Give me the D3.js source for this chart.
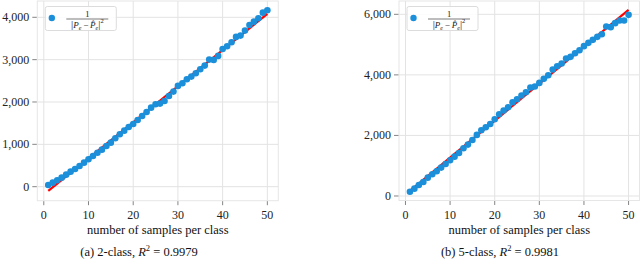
<!DOCTYPE html>
<html>
<head>
<meta charset="utf-8">
<script src="https://cdn.jsdelivr.net/npm/d3@7"></script>
<style>
    body { margin: 0; background: #fff; }
    svg { display: block; }
    .grid line { stroke: #e3e3e3; stroke-width: 1; }
    .tick-mark { stroke: #777; stroke-width: 0.9; }
    .tick-label { font-size: 12px; fill: #222; }
</style>
</head>
<body>
<div id="chart"></div>
<script>
// samples per class (x axis)
const samplesPerClass = [1, 2, 3, 4, 5, 6, 7, 8, 9, 10, 11, 12, 13, 14, 15, 16, 17, 18, 19, 20,
    21, 22, 23, 24, 25, 26, 27, 28, 29, 30, 31, 32, 33, 34, 35, 36, 37, 38, 39, 40,
    41, 42, 43, 44, 45, 46, 47, 48, 49, 50];

// 1 / |Pe - Pe_hat|^2
const twoClassValues = [40, 95, 150, 213, 284, 355, 418, 489, 567, 647, 725, 803, 874, 961, 1040,
    1143, 1237, 1323, 1410, 1481, 1575, 1670, 1765, 1866, 1946, 1962, 2025, 2143, 2245, 2380,
    2442, 2537, 2600, 2679, 2773, 2860, 3001, 2994, 3088, 3253, 3316, 3411, 3537, 3568, 3686,
    3820, 3898, 3977, 4110, 4167];
const fiveClassValues = [142, 242, 364, 463, 606, 716, 815, 937, 1058, 1179, 1300, 1421, 1576, 1697,
    1851, 2017, 2171, 2270, 2380, 2534, 2700, 2821, 2931, 3096, 3195, 3317, 3427, 3581, 3614,
    3735, 3868, 3989, 4176, 4287, 4375, 4540, 4595, 4716, 4815, 4948, 5058, 5157, 5256, 5344,
    5597, 5576, 5708, 5796, 5796, 5983];

// linear fit endpoints (x = 1 and x = 50)
const fitX = [1, 50];
const twoClassFit = [-100, 4080];
const fiveClassFit = [170, 6150];

// ticks
const xTicks = [0, 10, 20, 30, 40, 50];
const twoClassYTicks = [0, 1000, 2000, 3000, 4000];
const fiveClassYTicks = [0, 2000, 4000, 6000];

// captions
const captionLabels = ["(a) 2-class, ", "(b) 5-class, "];
const rSquared = ["0.9979", "0.9981"];

const xLabel = "number of samples per class";

const dotColor = "#1b8fd9";
const fitColor = "#ff0000";
const serif = "'Liberation Serif', serif";

const width = 640, height = 272;

const svg = d3.select("#chart").append("svg")
    .attr("width", width)
    .attr("height", height)
    .style("font-family", serif);

function drawPanel(cfg) {
    let g = svg.append("g");

    let x = d3.scaleLinear().domain([-1.45, 52.45]).range([cfg.left, cfg.right]);
    let y = d3.scaleLinear().domain(cfg.yDomain).range([cfg.bottom, cfg.top]);

    // grid
    let grid = g.append("g").attr("class", "grid");
    grid.selectAll(".gx").data(xTicks).enter().append("line")
        .attr("x1", d => x(d)).attr("x2", d => x(d))
        .attr("y1", cfg.top).attr("y2", cfg.bottom);
    grid.selectAll(".gy").data(cfg.yTicks).enter().append("line")
        .attr("x1", cfg.left).attr("x2", cfg.right)
        .attr("y1", d => y(d)).attr("y2", d => y(d));

    // frame
    g.append("rect")
        .attr("x", cfg.left).attr("y", cfg.top)
        .attr("width", cfg.right - cfg.left).attr("height", cfg.bottom - cfg.top)
        .attr("fill", "none").attr("stroke", "#e6e6e6").attr("stroke-width", 1);

    // ticks
    g.selectAll(".xt").data(xTicks).enter().append("line")
        .attr("class", "tick-mark")
        .attr("x1", d => x(d)).attr("x2", d => x(d))
        .attr("y1", cfg.bottom + 0.5).attr("y2", cfg.bottom + 4.5);
    g.selectAll(".xl").data(xTicks).enter().append("text")
        .attr("class", "tick-label")
        .attr("x", d => x(d)).attr("y", cfg.bottom + 18)
        .attr("text-anchor", "middle")
        .text(d => d);

    g.selectAll(".yt").data(cfg.yTicks).enter().append("line")
        .attr("class", "tick-mark")
        .attr("x1", cfg.left - 5).attr("x2", cfg.left - 0.5)
        .attr("y1", d => y(d)).attr("y2", d => y(d));
    g.selectAll(".yl").data(cfg.yTicks).enter().append("text")
        .attr("class", "tick-label")
        .attr("x", cfg.left - 8).attr("y", d => y(d) + 4)
        .attr("text-anchor", "end")
        .text(d => d3.format(",")(d));

    // fit line
    g.append("line")
        .attr("x1", x(fitX[0])).attr("y1", y(cfg.fit[0]))
        .attr("x2", x(fitX[1])).attr("y2", y(cfg.fit[1]))
        .attr("stroke", fitColor).attr("stroke-width", 2.2);

    // points
    g.selectAll(".dot").data(cfg.values).enter().append("circle")
        .attr("cx", (d, i) => x(samplesPerClass[i]))
        .attr("cy", d => y(d))
        .attr("r", 3.3)
        .attr("fill", dotColor);

    // legend
    let lx = cfg.left + 8, ly = 6.5;
    let legend = g.append("g");
    legend.append("rect")
        .attr("x", lx).attr("y", ly).attr("width", 71).attr("height", 24).attr("rx", 2)
        .attr("fill", "#fff").attr("fill-opacity", 0.85)
        .attr("stroke", "#dcdcdc").attr("stroke-width", 1);
    legend.append("circle")
        .attr("cx", lx + 6.5).attr("cy", ly + 11.5).attr("r", 3.2).attr("fill", dotColor);
    let fcx = lx + 42;
    legend.append("text")
        .attr("x", fcx).attr("y", ly + 10.5)
        .attr("text-anchor", "middle").attr("font-size", 8.5).attr("fill", "#222")
        .text("1");
    legend.append("line")
        .attr("x1", lx + 21).attr("x2", lx + 63)
        .attr("y1", ly + 12.5).attr("y2", ly + 12.5)
        .attr("stroke", "#222").attr("stroke-width", 0.6);
    let den = legend.append("text")
        .attr("x", fcx).attr("y", ly + 21.5)
        .attr("text-anchor", "middle").attr("font-size", 9).attr("fill", "#222");
    den.append("tspan").attr("font-size", 11).text("|");
    den.append("tspan").attr("font-style", "italic").text("P");
    den.append("tspan").attr("font-size", 6).attr("font-style", "italic").attr("dy", 2).text("e");
    den.append("tspan").attr("dy", -2).text("\u2009\u2212\u2009");
    den.append("tspan").attr("font-style", "italic").text("P\u0302");
    den.append("tspan").attr("font-size", 6).attr("font-style", "italic").attr("dy", 2).text("e");
    den.append("tspan").attr("font-size", 11).attr("dy", -2).text("|");
    den.append("tspan").attr("font-size", 6.5).attr("dy", -5).text("2");

    // x label
    g.append("text")
        .attr("x", (cfg.left + cfg.right) / 2).attr("y", cfg.bottom + 33)
        .attr("text-anchor", "middle").attr("font-size", 12.5).attr("fill", "#111")
        .text(xLabel);

    // caption
    let cap = g.append("text")
        .attr("x", cfg.captionX).attr("y", cfg.bottom + 55)
        .attr("text-anchor", "middle").attr("font-size", 12.5).attr("fill", "#111");
    cap.append("tspan").text(cfg.caption);
    cap.append("tspan").attr("font-style", "italic").text("R");
    cap.append("tspan").attr("font-size", 8.5).attr("dy", -5).text("2");
    cap.append("tspan").attr("dy", 5).text(" = " + cfg.r2);
}

drawPanel({
    left: 37.3, right: 278.3, top: 1, bottom: 200.7,
    yDomain: [-331, 4385],
    yTicks: twoClassYTicks,
    values: twoClassValues,
    fit: twoClassFit,
    caption: captionLabels[0], r2: rSquared[0],
    captionX: 139
});

drawPanel({
    left: 399, right: 639.5, top: 1, bottom: 200.5,
    yDomain: [-149, 6440],
    yTicks: fiveClassYTicks,
    values: fiveClassValues,
    fit: fiveClassFit,
    caption: captionLabels[1], r2: rSquared[1],
    captionX: 500
});
</script>
</body>
</html>
